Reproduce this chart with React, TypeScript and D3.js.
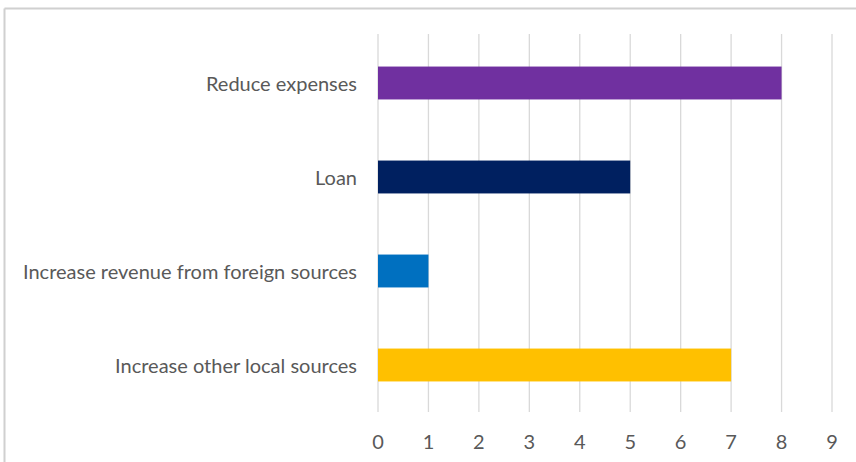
import React from "react";
import * as d3 from "d3";

const categories = [
  "Reduce expenses",
  "Loan",
  "Increase revenue from foreign sources",
  "Increase other local sources",
];
const values = [8, 5, 1, 7];
const colors = ["#7030A0", "#002060", "#0070C0", "#FFC000"];
const ticks = [0, 1, 2, 3, 4, 5, 6, 7, 8, 9];

const W = 856;
const H = 462;

export default function App() {
  const x = d3.scaleLinear().domain([0, 9]).range([378, 832]);
  const y = d3.scaleBand<string>().domain(categories).range([36, 412]).paddingInner(0.65).paddingOuter(0.325);
  const font = "Lato, 'Open Sans', sans-serif";
  return (
    <svg width={W} height={H} style={{ position: "absolute", left: 0, top: 0, background: "#fff" }}>
      <rect x={0} y={0} width={W} height={H} fill="#fff" />
      <line x1={4.5} y1={8.5} x2={W} y2={8.5} stroke="#d0d0d0" strokeWidth={2} />
      <line x1={4.5} y1={8.5} x2={4.5} y2={H} stroke="#d0d0d0" strokeWidth={2} />
      {ticks.map((t) => (
        <line key={t} x1={x(t)} x2={x(t)} y1={34} y2={412} stroke="#d9d9d9" strokeWidth={1.3} />
      ))}
      {categories.map((c, i) => (
        <g key={c}>
          <rect
            x={x(0)}
            y={y(c)!}
            width={x(values[i]) - x(0)}
            height={y.bandwidth()}
            fill={colors[i]}
          />
          <text
            x={357}
            y={y(c)! + y.bandwidth() / 2}
            textAnchor="end"
            dominantBaseline="central"
            fontFamily={font}
            fontSize={20}
            fill="#595959"
          >
            {c}
          </text>
        </g>
      ))}
      {ticks.map((t) => (
        <text
          key={"l" + t}
          x={x(t)}
          y={441}
          textAnchor="middle"
          dominantBaseline="central"
          fontFamily={font}
          fontSize={20}
          fill="#595959"
        >
          {t}
        </text>
      ))}
    </svg>
  );
}
